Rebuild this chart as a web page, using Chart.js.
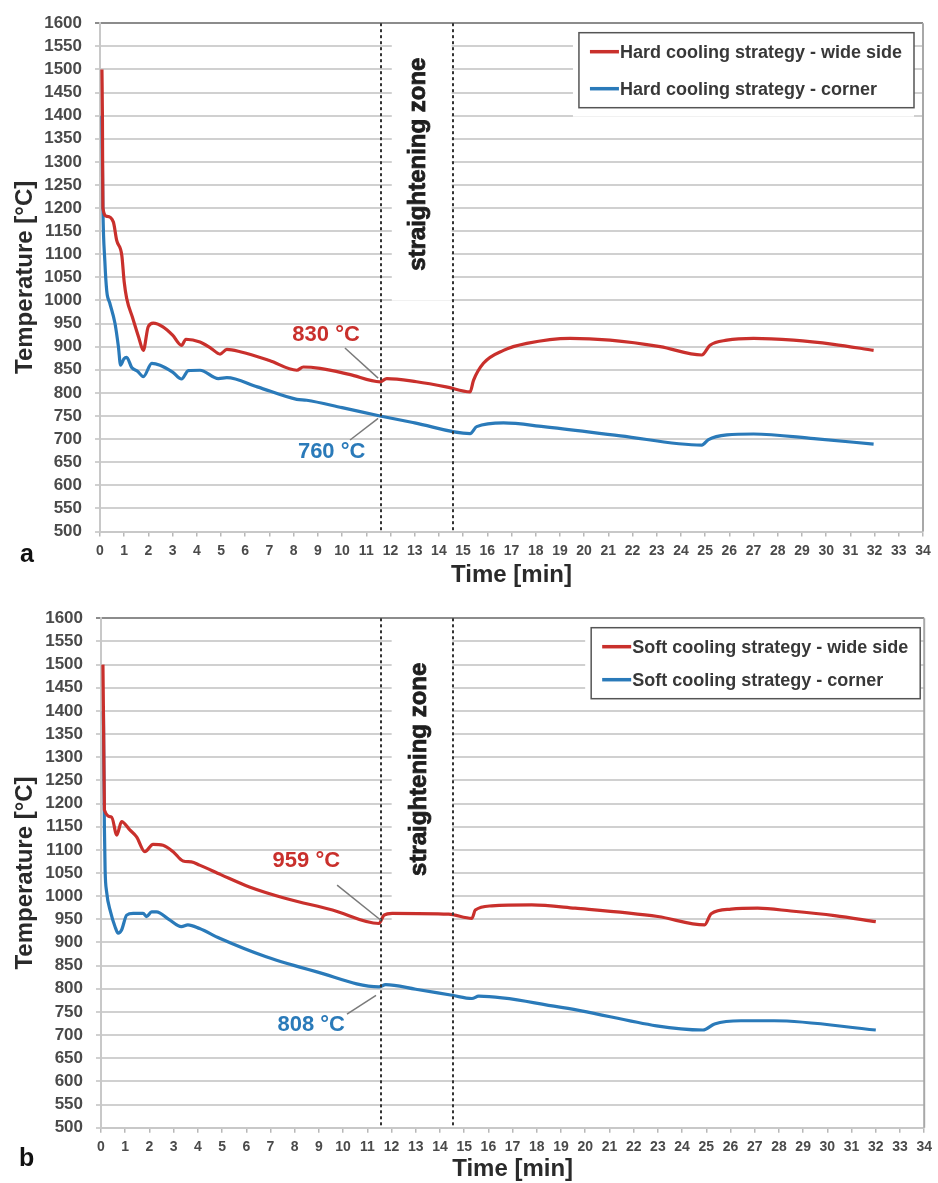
<!DOCTYPE html>
<html lang="en">
<head>
<meta charset="UTF-8">
<title>Hard vs soft cooling - temperature</title>
<script src="https://cdn.jsdelivr.net/npm/chart.js"></script>
<style>
  body { margin: 0; background: #fff; font-family: "Liberation Sans", Arial, sans-serif; }
  .panel { position: absolute; left: 0; width: 938px; }
  .tag { position: absolute; font-weight: bold; font-size: 25px; line-height: 25px; color: #111; }
</style>
</head>
<body>
<div class="panel" style="top:0;height:595px"><canvas id="chartA" width="938" height="595"></canvas></div>
<div class="tag" style="left:20px;top:541px">a</div>
<div class="panel" style="top:595px;height:588px"><canvas id="chartB" width="938" height="588"></canvas></div>
<div class="tag" style="left:19px;top:1145px">b</div>

<script>
// axis ranges
const timeMin = 0, timeMax = 34, timeStep = 1;
const tempMin = 500, tempMax = 1600, tempStep = 50;

// (a) hard cooling - wide side
const hardWideTime = [0.08, 0.1, 0.12, 0.28, 0.55, 0.69, 0.9, 1.0, 1.1, 1.35, 1.6, 1.79, 1.99, 2.2, 2.6, 3.0, 3.37, 3.55, 4.13, 4.6,
  4.96, 5.24, 5.79, 7.0, 8.13, 8.4, 9.09, 10.3, 11.57, 11.85, 13.08, 14.3, 15.29, 15.43, 15.84, 16.67, 17.63, 19.42, 21.07, 23.14,
  24.86, 25.2, 25.9, 27.0, 28.65, 30.3, 31.96];
const hardWideTemp = [1500, 1400, 1200, 1182, 1170, 1130, 1098, 1040, 1005, 962, 920, 892, 943, 951, 943, 925, 903, 916, 910, 896,
  884, 894, 889, 870, 849, 856, 853, 840, 824, 831, 824, 813, 802, 827, 864, 892, 907, 918, 914, 900,
  882, 903, 914, 918, 914, 905, 892];

// (a) hard cooling - corner
const hardCornerTime = [0.08, 0.12, 0.2, 0.28, 0.4, 0.62, 0.76, 0.85, 0.99, 1.1, 1.31, 1.55, 1.79, 2.14, 2.48, 3.0, 3.37, 3.65, 4.13, 4.89,
  5.24, 6.5, 8.13, 8.54, 10.0, 11.57, 13.0, 15.29, 15.56, 16.67, 18.32, 21.5, 24.86, 25.14, 25.9, 27.0, 29.5, 31.96];
const hardCornerTemp = [1400, 1200, 1085, 1020, 995, 950, 900, 860, 874, 877, 855, 847, 835, 864, 860, 845, 830, 848, 849, 831,
  833, 813, 786, 784, 768, 750, 735, 712, 727, 735, 727, 707, 687, 699, 709, 711, 701, 689];

// (b) soft cooling - wide side
const softWideTime = [0.08, 0.11, 0.14, 0.44, 0.65, 0.85, 1.19, 1.47, 1.81, 2.15, 2.56, 2.98, 3.39, 3.73, 4.07, 4.97, 6.13, 7.64, 9.56, 11.48,
  11.69, 12.03, 14.36, 15.32, 15.46, 16.14, 17.79, 19.58, 23.0, 24.93, 25.2, 26.02, 27.12, 28.49, 30.3, 32.0];
const softWideTemp = [1500, 1350, 1186, 1171, 1132, 1161, 1143, 1128, 1096, 1112, 1110, 1096, 1076, 1074, 1067, 1046, 1020, 995, 970, 941,
  959, 963, 961, 952, 970, 979, 981, 974, 956, 938, 962, 972, 974, 968, 958, 945];

// (b) soft cooling - corner
const softCornerTime = [0.1, 0.14, 0.17, 0.23, 0.4, 0.58, 0.71, 0.85, 1.06, 1.33, 1.74, 1.88, 2.09, 2.29, 2.8, 3.32, 3.59, 4.07, 4.9, 6.82,
  8.88, 11.48, 11.76, 13.0, 14.5, 15.32, 15.6, 18.89, 24.86, 25.34, 26.43, 27.8, 32.0];
const softCornerTemp = [1400, 1150, 1056, 1010, 965, 934, 920, 927, 959, 963, 963, 956, 966, 966, 950, 934, 938, 930, 909, 869,
  837, 804, 809, 799, 786, 779, 784, 761, 711, 724, 731, 731, 711];

// straightening zone borders (min)
const zoneA = [11.6, 14.57];
const zoneB = [11.55, 14.55];

const RED = '#c9302c';
const BLUE = '#2a7ab9';
const FONT = '"Liberation Sans", Arial, sans-serif';

Chart.defaults.font.family = FONT;

function pts(t, v) {
  return t.map((x, i) => ({ x: x, y: v[i] }));
}

function series(label, t, v, color) {
  return {
    label: label,
    data: pts(t, v),
    borderColor: color,
    backgroundColor: color,
    borderWidth: 3.2,
    pointRadius: 0,
    cubicInterpolationMode: 'monotone',
    fill: false
  };
}

// extra drawing: plot frame, straightening zone, value notes, boxed legend
const decor = {
  id: 'decor',
  beforeDatasetsDraw(chart, args, o) {
    const { ctx, chartArea: a, scales: { x } } = chart;
    ctx.save();
    // right frame
    ctx.strokeStyle = '#a8a8a8';
    ctx.lineWidth = 2;
    ctx.beginPath();
    ctx.moveTo(a.right, a.top);
    ctx.lineTo(a.right, a.bottom);
    ctx.stroke();

    // white patch behind the zone label
    const x1 = x.getPixelForValue(o.zone[0]);
    const x2 = x.getPixelForValue(o.zone[1]);
    ctx.fillStyle = '#fff';
    ctx.fillRect(x1 + 11, a.top + o.zoneTextTop - 22, x2 - x1 - 12, o.zoneTextLen + 52);

    // white patch behind the legend
    const lg = legendBox(chart, o);
    ctx.fillRect(lg.left - 6, a.top + 2, lg.right - lg.left + 6, lg.bottom - a.top + 7);
    ctx.restore();
  },
  afterDatasetsDraw(chart, args, o) {
    const { ctx, chartArea: a, scales: { x, y } } = chart;
    ctx.save();

    // dashed zone borders
    ctx.strokeStyle = '#333';
    ctx.lineWidth = 2;
    ctx.setLineDash([3, 3]);
    o.zone.forEach(v => {
      const px = Math.round(x.getPixelForValue(v));
      ctx.beginPath();
      ctx.moveTo(px, a.top);
      ctx.lineTo(px, a.bottom);
      ctx.stroke();
    });
    ctx.setLineDash([]);

    // rotated zone label (a thin stroke makes it as heavy as the original)
    const zx = (x.getPixelForValue(o.zone[0]) + x.getPixelForValue(o.zone[1])) / 2 + 2;
    const zy = a.top + o.zoneTextTop + o.zoneTextLen / 2;
    ctx.translate(zx, zy);
    ctx.rotate(-Math.PI / 2);
    ctx.fillStyle = '#1e1e1e';
    ctx.strokeStyle = '#1e1e1e';
    ctx.lineWidth = 0.8;
    ctx.font = 'bold 24px ' + FONT;
    ctx.textAlign = 'center';
    ctx.textBaseline = 'middle';
    ctx.fillText('straightening zone', 0, 0);
    ctx.strokeText('straightening zone', 0, 0);
    ctx.setTransform(1, 0, 0, 1, 0, 0);

    // value notes with leader lines
    o.notes.forEach(n => {
      ctx.strokeStyle = '#7a7a7a';
      ctx.lineWidth = 1.5;
      ctx.beginPath();
      ctx.moveTo(x.getPixelForValue(n.from[0]), y.getPixelForValue(n.from[1]));
      ctx.lineTo(x.getPixelForValue(n.to[0]), y.getPixelForValue(n.to[1]));
      ctx.stroke();
      ctx.fillStyle = n.color;
      ctx.font = 'bold 22px ' + FONT;
      ctx.textAlign = 'center';
      ctx.textBaseline = 'middle';
      ctx.fillText(n.text, x.getPixelForValue(n.at[0]), y.getPixelForValue(n.at[1]));
    });

    // legend
    const lg = legendBox(chart, o);
    ctx.strokeStyle = '#555';
    ctx.lineWidth = 1.5;
    ctx.strokeRect(lg.left, lg.top, lg.right - lg.left, lg.bottom - lg.top);
    ctx.font = 'bold 18px ' + FONT;
    ctx.textAlign = 'left';
    ctx.textBaseline = 'middle';
    chart.data.datasets.forEach((ds, i) => {
      const ry = lg.top + 19 + i * o.legendGap;
      ctx.strokeStyle = ds.borderColor;
      ctx.lineWidth = 3.5;
      ctx.beginPath();
      ctx.moveTo(lg.left + 11, ry);
      ctx.lineTo(lg.left + 40, ry);
      ctx.stroke();
      ctx.fillStyle = '#383838';
      ctx.fillText(ds.label, lg.left + 41, ry + 1);
    });
    ctx.restore();
  }
};

function legendBox(chart, o) {
  const { ctx, chartArea: a } = chart;
  ctx.save();
  ctx.font = 'bold 18px ' + FONT;
  const w = Math.max(...chart.data.datasets.map(d => ctx.measureText(d.label).width));
  ctx.restore();
  const right = a.right - o.legendRight;
  const top = a.top + o.legendTop;
  return { left: right - (w + 53), right: right, top: top, bottom: top + o.legendH };
}

function makeChart(id, datasets, lay, deco) {
  new Chart(document.getElementById(id), {
    type: 'line',
    data: { datasets: datasets },
    options: {
      responsive: false,
      animation: false,
      layout: { padding: { top: lay.top, right: lay.right, left: 0, bottom: 0 } },
      plugins: {
        legend: { display: false },
        tooltip: { enabled: false },
        decor: deco
      },
      scales: {
        x: {
          type: 'linear',
          min: timeMin,
          max: timeMax,
          afterFit(s) { s.height = lay.xHeight; },
          ticks: { stepSize: timeStep, autoSkip: false, maxRotation: 0, padding: 6, color: '#4a4a4a',
            font: { size: 14, weight: 'bold' }, callback: v => String(v) },
          grid: { drawOnChartArea: false, color: '#b8b8b8', lineWidth: 1.5, tickLength: 5 },
          border: { color: '#c8c8c8', width: 2 },
          title: { display: true, text: 'Time [min]', color: '#2a2a2a',
            font: { size: 24, weight: 'bold', lineHeight: 1.1 }, padding: { top: 0, bottom: lay.xTitlePad } }
        },
        y: {
          type: 'linear',
          min: tempMin,
          max: tempMax,
          afterFit(s) { s.width = lay.yWidth; },
          ticks: { stepSize: tempStep, autoSkip: false, padding: 13, color: '#4a4a4a',
            font: { size: 17, weight: 'bold' }, callback: v => String(v) },
          grid: {
            color: c => (c.tick && c.tick.value === tempMax ? '#8c8c8c' : '#d0d0d0'),
            lineWidth: 2,
            tickLength: 5
          },
          border: { color: '#c8c8c8', width: 2 },
          title: { display: true, text: 'Temperature [°C]', color: '#2a2a2a',
            font: { size: 24, weight: 'bold', lineHeight: 1.1 }, padding: { top: 12, bottom: 0 } }
        }
      }
    },
    plugins: [decor]
  });
}

makeChart('chartA', [
  series('Hard cooling strategy - wide side', hardWideTime, hardWideTemp, RED),
  series('Hard cooling strategy - corner', hardCornerTime, hardCornerTemp, BLUE)
], { top: 22.5, right: 15, yWidth: 100, xHeight: 63.5, xTitlePad: 6.8 }, {
  zone: zoneA,
  zoneTextTop: 34.5,
  zoneTextLen: 213,
  legendRight: 9,
  legendTop: 9.5,
  legendH: 75,
  legendGap: 37,
  notes: [
    { text: '830 °C', color: RED, at: [9.34, 925], from: [10.12, 897], to: [11.49, 832] },
    { text: '760 °C', color: BLUE, at: [9.57, 673], from: [10.33, 698], to: [11.49, 745] }
  ]
});

makeChart('chartB', [
  series('Soft cooling strategy - wide side', softWideTime, softWideTemp, RED),
  series('Soft cooling strategy - corner', softCornerTime, softCornerTemp, BLUE)
], { top: 23.3, right: 10, yWidth: 101, xHeight: 55.3, xTitlePad: 0 }, {
  zone: zoneB,
  zoneTextTop: 30,
  zoneTextLen: 242,
  legendRight: 4,
  legendTop: 9.4,
  legendH: 71,
  legendGap: 33,
  notes: [
    { text: '959 °C', color: RED, at: [8.48, 1076], from: [9.75, 1024], to: [11.56, 948] },
    { text: '808 °C', color: BLUE, at: [8.68, 722], from: [10.16, 745], to: [11.36, 786] }
  ]
});
</script>
</body>
</html>
